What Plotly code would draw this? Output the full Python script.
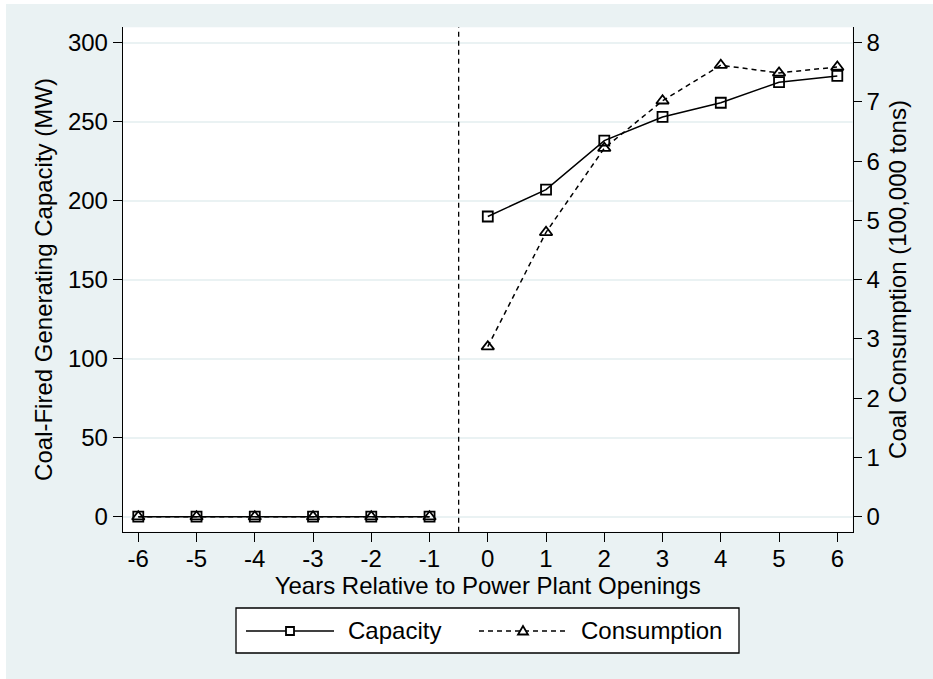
import plotly.graph_objects as go

# ---------------- data ----------------
years_pre = [-6, -5, -4, -3, -2, -1]
years_post = [0, 1, 2, 3, 4, 5, 6]
capacity_pre = [0, 0, 0, 0, 0, 0]
capacity_post = [190, 207, 238, 253, 262, 275, 279]
consumption_pre = [0, 0, 0, 0, 0, 0]
consumption_post = [2.87, 4.8, 6.22, 7.02, 7.62, 7.49, 7.59]
x_ticks = [-6, -5, -4, -3, -2, -1, 0, 1, 2, 3, 4, 5, 6]
left_ticks = [0, 50, 100, 150, 200, 250, 300]
right_ticks = [0, 1, 2, 3, 4, 5, 6, 7, 8]
event_line_x = -0.5
series_names = ["Capacity", "Consumption"]

# ---------------- layout constants ----------------
W, H = 933, 679
FONT = "Liberation Sans, Arial, Helvetica, sans-serif"
BG = "#EAF2F3"


def px(x):
    return x / W


def py(y):
    return 1 - y / H


x_dom = [px(122.9), px(852.5)]
y_dom = [py(531.7), py(27.3)]

fig = go.Figure()

cap_style = dict(line=dict(color="black", width=1.5),
                 marker=dict(symbol="square-open", size=10, color="black", line=dict(width=1.8)))
con_style = dict(line=dict(color="black", width=1.5, dash="5px,4px"),
                 marker=dict(symbol="triangle-up-open", size=11, color="black", line=dict(width=1.8)))

for xs, ys in [(years_pre, capacity_pre), (years_post, capacity_post)]:
    fig.add_trace(go.Scatter(x=xs, y=ys, name=series_names[0], mode="lines+markers",
                             yaxis="y", showlegend=False, legendgroup="cap", **cap_style))
for xs, ys in [(years_pre, consumption_pre), (years_post, consumption_post)]:
    fig.add_trace(go.Scatter(x=xs, y=ys, name=series_names[1], mode="lines+markers",
                             yaxis="y2", showlegend=False, legendgroup="con", **con_style))

tickfont = dict(family=FONT, size=24, color="black")
titlefont = dict(family=FONT, size=24, color="black")

fig.update_layout(
    width=W, height=H,
    margin=dict(l=0, r=0, t=0, b=0, autoexpand=False),
    paper_bgcolor=BG, plot_bgcolor="white",
    font=dict(family=FONT, color="black"),
    showlegend=False,
    xaxis=dict(
        domain=x_dom, range=[-6.264, 6.261], tickmode="array", tickvals=x_ticks,
        ticktext=[str(v) for v in x_ticks],
        ticks="outside", ticklen=9, tickwidth=1.3, tickcolor="black",
        ticklabelstandoff=-4,
        showline=True, linecolor="black", linewidth=1.3, mirror=False,
        showgrid=False, zeroline=False, tickfont=tickfont,
        title=dict(text="Years Relative to Power Plant Openings", font=titlefont, standoff=1),
    ),
    yaxis=dict(
        domain=y_dom, range=[-9.49, 309.75], tickmode="array", tickvals=left_ticks,
        ticks="outside", ticklen=9, tickwidth=1.3, tickcolor="black",
        showline=True, linecolor="black", linewidth=1.3,
        showgrid=True, gridcolor=BG, gridwidth=1.6, zeroline=False,
        tickfont=tickfont,
        title=dict(text="Coal-Fired Generating Capacity (MW)", font=titlefont, standoff=8),
    ),
    yaxis2=dict(
        overlaying="y", side="right", anchor="x",
        range=[-0.253, 8.26], tickmode="array", tickvals=right_ticks,
        ticks="outside", ticklen=8, tickwidth=1.3, tickcolor="black",
        showline=True, linecolor="black", linewidth=1.3,
        showgrid=False, zeroline=False, tickfont=tickfont,
        title=dict(text="Coal Consumption (100,000 tons)", font=titlefont, standoff=10),
    ),
)

shapes = []
# white frame strips at top/left edge
shapes.append(dict(type="rect", xref="paper", yref="paper", x0=0, x1=px(6), y0=0, y1=1,
                   fillcolor="white", line=dict(width=0), layer="below"))
shapes.append(dict(type="rect", xref="paper", yref="paper", x0=0, x1=1, y0=py(4), y1=1,
                   fillcolor="white", line=dict(width=0), layer="below"))
# event line
shapes.append(dict(type="line", xref="x", yref="y domain", x0=event_line_x, x1=event_line_x,
                   y0=0, y1=1, line=dict(color="black", width=1.3, dash="5px,4px")))

# manual legend (Stata style)
shapes.append(dict(type="rect", xref="paper", yref="paper",
                   x0=px(236), x1=px(739), y0=py(653), y1=py(608),
                   fillcolor="white", line=dict(color="black", width=1.3)))
leg_y = 631
items = [
    dict(l0=246, l1=334, m=290, t=349, dash="solid", sym="square"),
    dict(l0=479, l1=567, m=523, t=582, dash="5px,4px", sym="triangle"),
]
annotations = []
for name, it in zip(series_names, items):
    shapes.append(dict(type="line", xref="paper", yref="paper",
                       x0=px(it["l0"]), x1=px(it["l1"]), y0=py(leg_y), y1=py(leg_y),
                       line=dict(color="black", width=1.5, dash=it["dash"])))
    if it["sym"] == "square":
        shapes.append(dict(type="rect", xref="paper", yref="paper",
                           xsizemode="pixel", ysizemode="pixel",
                           xanchor=px(it["m"]), yanchor=py(leg_y),
                           x0=-4, x1=4, y0=-4, y1=4,
                           fillcolor="white", line=dict(color="black", width=1.8)))
    else:
        shapes.append(dict(type="path", xref="paper", yref="paper",
                           xsizemode="pixel", ysizemode="pixel",
                           xanchor=px(it["m"]), yanchor=py(leg_y),
                           path="M-5,-3.5 L5,-3.5 L0,5 Z",
                           fillcolor="white", line=dict(color="black", width=1.8)))
    annotations.append(dict(text=name, xref="paper", yref="paper",
                            x=px(it["t"] - 3), y=py(leg_y - 1), xanchor="left", yanchor="middle",
                            showarrow=False, font=dict(family=FONT, size=24, color="black")))

fig.update_layout(shapes=shapes, annotations=annotations)

fig.write_html("out.html")
